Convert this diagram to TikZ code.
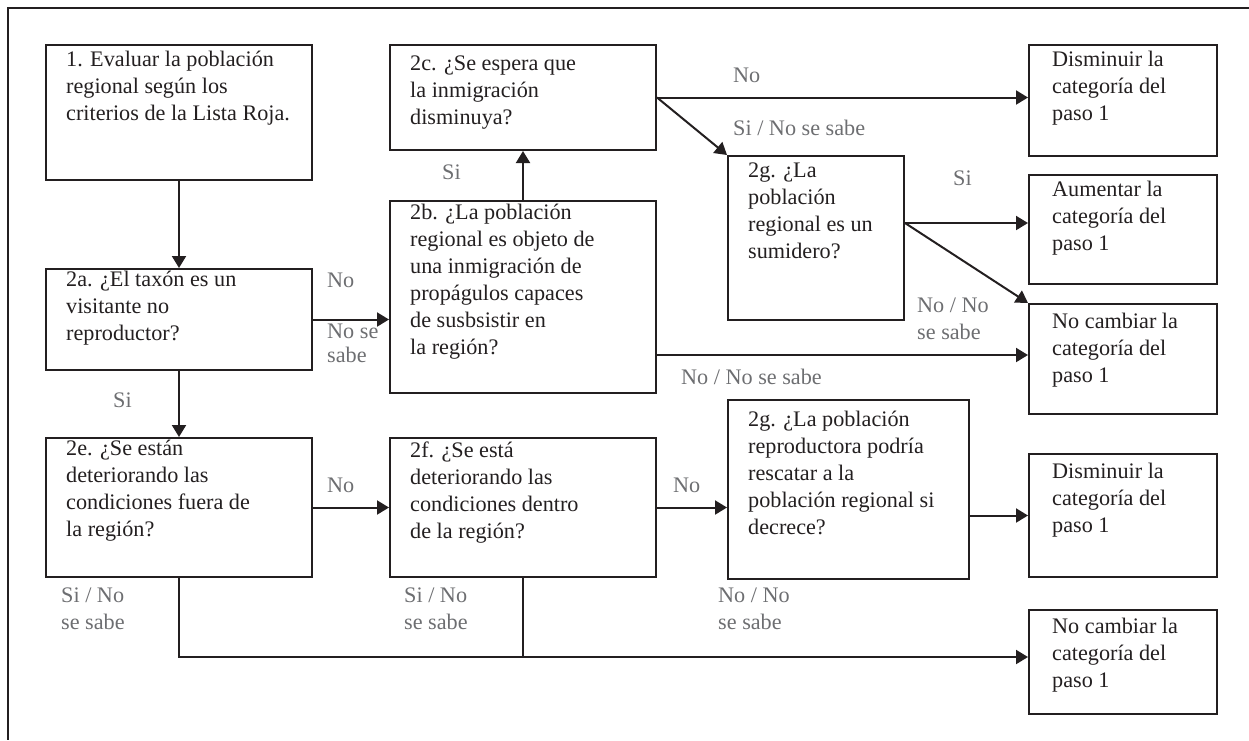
\documentclass[tikz,border=0pt]{standalone}
\usepackage{fontspec}
\setmainfont{Liberation Serif}
\usetikzlibrary{arrows.meta}

\definecolor{ink}{HTML}{231F20}
\definecolor{answer}{HTML}{6D6E71}

\tikzset{
  box/.style={draw=ink, line width=2pt, anchor=north west, inner sep=0pt},
  boxtext/.style={anchor=north west, align=left, inner sep=0pt, text=ink, font=\fontsize{22.2}{27}\selectfont, execute at begin node=\strut},
  answer/.style={anchor=north west, align=left, inner sep=0pt, text=answer, font=\fontsize{22.2}{27}\selectfont, execute at begin node=\strut},
  arr/.style={draw=ink, line width=2pt, -{Triangle[length=12pt,width=14pt]}},
  link/.style={draw=ink, line width=2pt}
}

\begin{document}
\begin{tikzpicture}[x=1pt, y=-1pt]

  \useasboundingbox (0,0) rectangle (1249,740);
  \draw[ink, line width=2.6pt] (1249,8) -- (8,8) -- (8,740);

  % questions
  \node[box, minimum width=266pt, minimum height=135pt] (eval) at (45,44) {};
  \node[boxtext] (evalT) at ([shift={(21,7)}]eval.north west) {1. Evaluar la población\\regional según los\\criterios de la Lista Roja.};

  \node[box, minimum width=266pt, minimum height=101pt] (taxa) at (45,268) {};
  \node[boxtext] (taxaT) at ([shift={(21,3)}]taxa.north west) {2a. ¿El taxón es un\\visitante no\\reproductor?};

  \node[box, minimum width=266pt, minimum height=139pt] (outs) at (45,437) {};
  \node[boxtext] (outsT) at ([shift={(21,3)}]outs.north west) {2e. ¿Se están\\deteriorando las\\condiciones fuera de\\la región?};

  \node[box, minimum width=266pt, minimum height=105pt] (expect) at (389,44) {};
  \node[boxtext] (expectT) at ([shift={(21,12)}]expect.north west) {2c. ¿Se espera que\\la inmigración\\disminuya?};

  \node[box, minimum width=266pt, minimum height=192pt] (immig) at (389,200) {};
  \node[boxtext] (immigT) at ([shift={(21,4)}]immig.north west) {2b. ¿La población\\regional es objeto de\\una inmigración de\\propágulos capaces\\de susbsistir en\\la región?};

  \node[box, minimum width=266pt, minimum height=139pt] (inside) at (389,437) {};
  \node[boxtext] (insideT) at ([shift={(21,5)}]inside.north west) {2f. ¿Se está\\deteriorando las\\condiciones dentro\\de la región?};

  \node[box, minimum width=176pt, minimum height=164pt] (sink) at (727,155) {};
  \node[boxtext] (sinkT) at ([shift={(21,8)}]sink.north west) {2g. ¿La\\población\\regional es un\\sumidero?};

  \node[box, minimum width=241pt, minimum height=179pt] (rescue) at (727,399) {};
  \node[boxtext] (rescueT) at ([shift={(21,12)}]rescue.north west) {2g. ¿La población\\reproductora podría\\rescatar a la\\población regional si\\decrece?};

  % outcomes
  \node[box, minimum width=188pt, minimum height=111pt] (down1) at (1028,44) {};
  \node[boxtext] (down1T) at ([shift={(24,7)}]down1.north west) {Disminuir la\\categoría del\\paso 1};

  \node[box, minimum width=188pt, minimum height=109pt] (up) at (1028,174) {};
  \node[boxtext] (upT) at ([shift={(24,7)}]up.north west) {Aumentar la\\categoría del\\paso 1};

  \node[box, minimum width=188pt, minimum height=110pt] (keep1) at (1028,303) {};
  \node[boxtext] (keep1T) at ([shift={(24,10)}]keep1.north west) {No cambiar la\\categoría del\\paso 1};

  \node[box, minimum width=188pt, minimum height=123pt] (down2) at (1028,453) {};
  \node[boxtext] (down2T) at ([shift={(24,10)}]down2.north west) {Disminuir la\\categoría del\\paso 1};

  \node[box, minimum width=188pt, minimum height=104pt] (keep2) at (1028,609) {};
  \node[boxtext] (keep2T) at ([shift={(24,9)}]keep2.north west) {No cambiar la\\categoría del\\paso 1};

  % connectors
  \draw[arr] (eval) -- (taxa);
  \draw[arr] (taxa) -- (outs);
  \draw[arr] (taxa.east) -- (taxa.east -| immig.west);
  \draw[arr] (immig) -- (expect);
  \draw[arr] (expect.east) -- (expect.east -| down1.west);
  \draw[arr] (expect.east) -- (sink.north west);

  \coordinate (sinkout) at ([yshift=15pt]sink.east);
  \draw[arr] (sinkout) -- (sinkout -| up.west);
  \draw[arr] (sinkout) -- (keep1.north west);

  \coordinate (immigout) at ([yshift=-58pt]immig.east);
  \draw[arr] (immigout) -- (immigout -| keep1.west);

  \draw[arr] (outs.east) -- (outs.east -| inside.west);
  \draw[arr] (inside.east) -- (inside.east -| rescue.west);
  \draw[arr] (down2.west -| rescue.east) -- (down2.west);

  \coordinate (merge) at ([yshift=-79pt]outs.south);
  \draw[arr] (outs.south) -- (merge) -- (merge -| keep2.west);
  \draw[link] (inside.south) -- (inside.south |- merge);

  % answers
  \node[answer] (noA) at (733,63) {No};
  \node[answer] (siNoA) at (733,116) {Si / No se sabe};
  \node[answer] (siB) at (442,160) {Si};
  \node[answer] (siC) at (953,166) {Si};
  \node[answer] (noNoA) at (917,298) {No / No\\se sabe};
  \node[answer] (noNoB) at (681,365) {No / No se sabe};
  \node[answer] (noB) at (327,268) {No};
  \node[answer, font=\fontsize{22.2}{24}\selectfont] (noSe) at (327,324) {No se\\sabe};
  \node[answer] (siD) at (113,388) {Si};
  \node[answer] (noC) at (327,473) {No};
  \node[answer] (noD) at (673,473) {No};
  \node[answer] (siNoB) at (61,588) {Si / No\\se sabe};
  \node[answer] (siNoC) at (404,588) {Si / No\\se sabe};
  \node[answer] (noNoC) at (718,588) {No / No\\se sabe};

\end{tikzpicture}
\end{document}
